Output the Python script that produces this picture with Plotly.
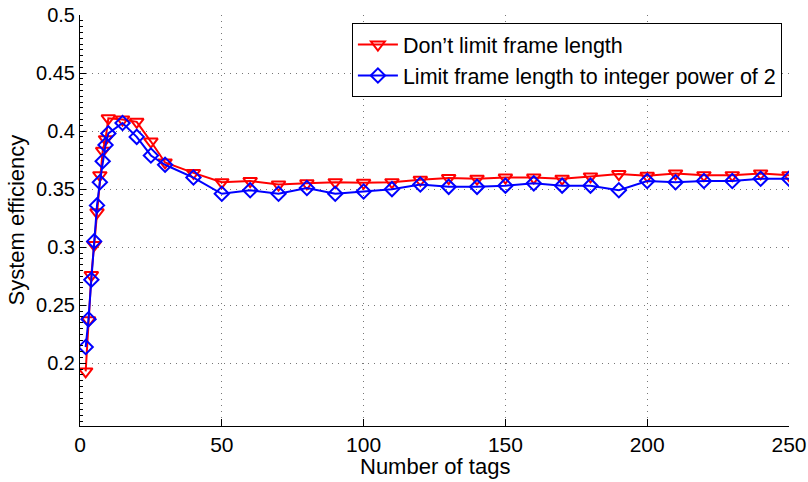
import plotly.graph_objects as go

tags = [2, 3, 4, 5, 6, 7, 8, 9, 10, 15, 20, 25, 30, 40, 50, 60, 70, 80, 90, 100,
        110, 120, 130, 140, 150, 160, 170, 180, 190, 200, 210, 220, 230, 240, 250]

no_limit = [0.193, 0.237, 0.276, 0.302, 0.330, 0.362, 0.383, 0.393, 0.411, 0.410,
            0.408, 0.391, 0.373, 0.364, 0.356, 0.357, 0.354, 0.355, 0.356, 0.3555,
            0.356, 0.358, 0.3595, 0.359, 0.360, 0.360, 0.359, 0.361, 0.363, 0.3615,
            0.3635, 0.362, 0.362, 0.3635, 0.362]

limit_pow2 = [0.214, 0.238, 0.272, 0.305, 0.336, 0.356, 0.374, 0.388, 0.398, 0.407,
              0.395, 0.379, 0.371, 0.360, 0.346, 0.349, 0.346, 0.351, 0.346, 0.348,
              0.350, 0.354, 0.352, 0.352, 0.353, 0.355, 0.353, 0.353, 0.349, 0.357,
              0.356, 0.357, 0.357, 0.359, 0.359]

y_ticks = [0.2, 0.25, 0.3, 0.35, 0.4, 0.45, 0.5]
y_tick_text = ["0.2", "0.25", "0.3", "0.35", "0.4", "0.45", "0.5"]
x_ticks = [0, 50, 100, 150, 200, 250]

x_title = "Number of tags"
y_title = "System efficiency"

FONT = "Liberation Sans, Arial, sans-serif"
GRID = dict(showgrid=True, gridcolor="#777777", griddash="1px,5px", gridwidth=1)

fig = go.Figure()
fig.add_trace(go.Scatter(
    x=tags, y=no_limit, mode="lines+markers",
    name="Don\u2019t limit frame length",
    line=dict(color="#ff0000", width=2),
    marker=dict(symbol="triangle-down-open", size=12, color="#ff0000",
                line=dict(width=2, color="#ff0000")),
))
fig.add_trace(go.Scatter(
    x=tags, y=limit_pow2, mode="lines+markers",
    name="Limit frame length to integer power of 2",
    line=dict(color="#0000ff", width=2),
    marker=dict(symbol="diamond-open", size=11, color="#0000ff",
                line=dict(width=2, color="#0000ff")),
))

fig.update_layout(
    width=808, height=482,
    margin=dict(l=80, r=19, t=15, b=56),
    paper_bgcolor="white", plot_bgcolor="white",
    font=dict(family=FONT, size=20, color="black"),
    showlegend=True,
    legend=dict(
        x=0.99, y=0.9805, xanchor="right", yanchor="top",
        bordercolor="black", borderwidth=1, bgcolor="white",
        font=dict(family=FONT, size=21.5, color="black"),
        itemwidth=40, tracegroupgap=0,
    ),
    xaxis=dict(
        range=[0, 250], tickvals=x_ticks, automargin=False,
        ticklabeloverflow="allow",
        ticks="inside", ticklen=7, tickwidth=1, tickcolor="black",
        showline=True, linecolor="black", linewidth=1,
        zeroline=False,
        tickfont=dict(size=21),
        **GRID,
    ),
    yaxis=dict(
        range=[0.146, 0.5], tickvals=y_ticks, ticktext=y_tick_text, automargin=False,
        ticklabeloverflow="allow",
        ticks="inside", ticklen=6, tickwidth=1, tickcolor="black",
        showline=True, linecolor="black", linewidth=1,
        zeroline=False,
        minor=dict(dtick=0.005, tick0=0, ticks="inside", ticklen=3,
                   tickcolor="black", showgrid=False),
        tickfont=dict(size=20),
        **GRID,
    ),
    annotations=[
        dict(text=x_title, xref="paper", yref="paper", x=0.5, y=0,
             xanchor="center", yanchor="middle", yshift=-40, showarrow=False,
             font=dict(family=FONT, size=22, color="black")),
        dict(text=y_title, xref="paper", yref="paper", x=0, y=0.5,
             xanchor="center", yanchor="middle", xshift=-64, textangle=-90,
             showarrow=False, font=dict(family=FONT, size=22, color="black")),
    ],
)

fig.write_html(
    "out.html",
    config={"displayModeBar": False},
    post_script="document.body.style.margin='0';document.body.style.overflow='hidden';",
)
